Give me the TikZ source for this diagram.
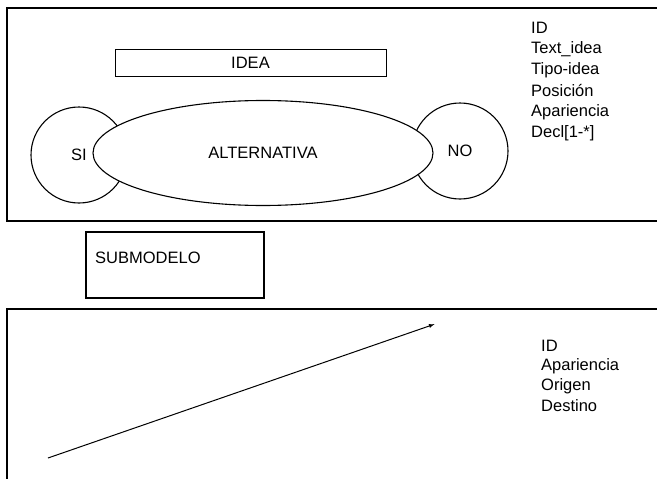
\documentclass[tikz,border=0pt]{standalone}
\usepackage{fontspec}
\setmainfont{Liberation Sans}
\usetikzlibrary{positioning, shapes.geometric, arrows.meta}

\begin{document}
\begin{tikzpicture}[x=1pt, y=-1pt,
    frame/.style={line width=1.6pt},
    txt/.style={font=\fontsize{16.5}{19}\selectfont, inner sep=0pt},
    lobe/.style={draw, circle, line width=1.1pt, minimum size=96pt, inner sep=0pt, txt}]
    \useasboundingbox (0,0) rectangle (657,479);

    % Upper frame: idea with its two alternatives
    \draw[frame] (657,8) -- (7,8) -- (7,221) -- (657,221);
    \node[draw, line width=0.8pt, minimum width=271pt, minimum height=27pt, txt] (idea) at (250.5,63) {IDEA};
    \node[lobe] (si) at (79,155) {SI};
    \node[lobe] (no) at (460,151) {NO};
    \node[draw, ellipse, fill=white, line width=1.1pt, minimum width=340pt, minimum height=105pt, txt] (alt) at (263,153) {ALTERNATIVA};

    % Attributes of the idea
    \foreach \y/\t in {28/ID, 49/Text\_idea, 70/Tipo-idea, 91/Posición, 112/Apariencia, 133/{Decl[1-*]}} {
      \node[txt, anchor=west] (ia\y) at (531,\y) {\t};
    }

    % Submodel
    \node[draw, line width=1.6pt, minimum width=178pt, minimum height=66pt] (sub) at (175,265) {};
    \node[txt, anchor=west] (subname) at (95,258) {SUBMODELO};

    % Lower frame: relation arrow
    \draw[frame] (657,309) -- (7,309) -- (7,485);
    \coordinate (tail) at (48,458);
    \coordinate (head) at (435,324);
    \draw[-{Latex[length=6pt, width=4pt]}, line width=1pt] (tail) -- (head);

    % Attributes of the relation
    \foreach \y/\t in {346/ID, 366/Apariencia, 386/Origen, 406/Destino} {
      \node[txt, anchor=west] (ra\y) at (541,\y) {\t};
    }
\end{tikzpicture}
\end{document}
